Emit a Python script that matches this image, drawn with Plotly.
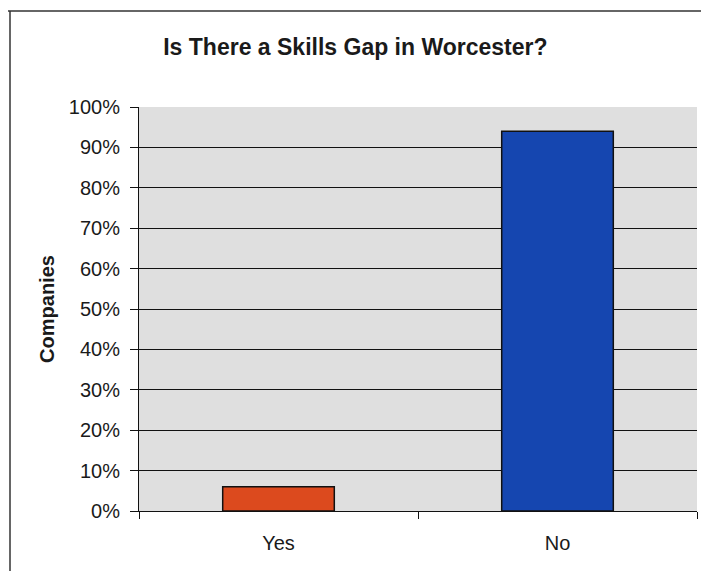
import plotly.graph_objects as go

categories = ["Yes", "No"]
shares = [6, 94]  # percent of companies
bar_colors = ["#dc4a1e", "#1546b0"]
y_ticks = list(range(0, 101, 10))
y_tick_labels = [f"{v}%" for v in y_ticks]

fig = go.Figure(
    go.Bar(
        x=categories,
        y=shares,
        width=0.4,
        marker=dict(color=bar_colors, line=dict(color="#111111", width=1.5)),
        hoverinfo="skip",
    )
)

font_family = "Liberation Sans, Arial, sans-serif"

fig.update_layout(
    width=701,
    height=571,
    margin=dict(l=139, r=4, t=107, b=60),
    paper_bgcolor="white",
    plot_bgcolor="#dfdfdf",
    showlegend=False,
    font=dict(family=font_family, color="#1a1a1a", size=20),
    title=dict(
        text="<b>Is There a Skills Gap in Worcester?</b>",
        x=0.507,
        xanchor="center",
        y=1 - 47 / 571,
        yanchor="middle",
        font=dict(size=23, family=font_family, color="#1a1a1a"),
    ),
    xaxis=dict(
        type="category",
        showgrid=False,
        showline=True,
        linecolor="#111111",
        linewidth=1,
        ticks="outside",
        tickson="boundaries",
        ticklen=7,
        tickcolor="#111111",
        tickfont=dict(size=20),
        ticklabelstandoff=14,
    ),
    yaxis=dict(
        range=[0, 100],
        tickvals=y_ticks,
        ticktext=y_tick_labels,
        showgrid=True,
        gridcolor="#111111",
        gridwidth=1,
        zeroline=False,
        showline=True,
        linecolor="#111111",
        linewidth=1,
        ticks="outside",
        ticklen=8,
        tickcolor="#111111",
        tickfont=dict(size=20),
        ticklabelstandoff=6,
        title=dict(text="<b>Companies</b>", font=dict(size=20), standoff=8),
    ),
    shapes=[
        # outer chart frame (top and left edges)
        dict(type="line", xref="paper", yref="paper",
             x0=-131 / 558, x1=(701 - 139) / 558,
             y0=1 + 96 / 404, y1=1 + 96 / 404,
             line=dict(color="#333333", width=1.5)),
        dict(type="line", xref="paper", yref="paper",
             x0=-129 / 558, x1=-129 / 558,
             y0=-60 / 404, y1=1 + 96 / 404,
             line=dict(color="#333333", width=1.5)),
    ],
)

fig.write_html("out.html")
